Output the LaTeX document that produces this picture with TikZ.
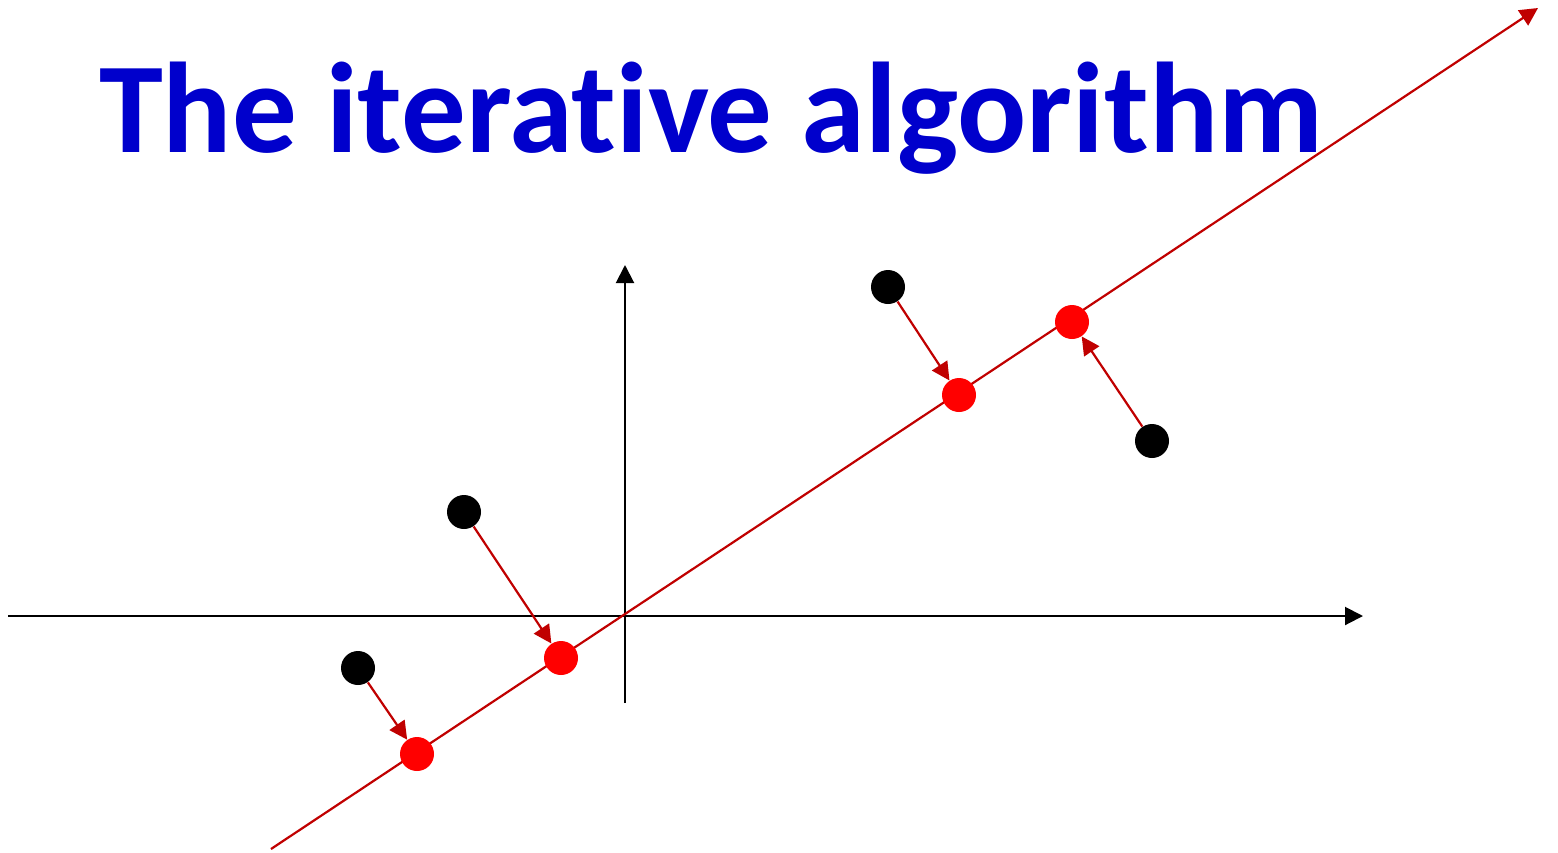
\documentclass[tikz,border=0pt]{standalone}
\usepackage{fontspec}
\setmainfont[Ligatures={NoCommon,NoRare,NoContextual}]{Carlito}
\usetikzlibrary{arrows.meta}
\definecolor{titleblue}{RGB}{0,0,204}
\definecolor{darkred}{RGB}{192,0,0}
\definecolor{ptred}{RGB}{255,0,0}
\tikzset{
  ax/.style={line width=1pt, black, -{Triangle[length=9pt,width=9pt]}},
  fitline/.style={line width=1.1pt, darkred, -{Triangle[length=9pt,width=9pt]}},
  proj/.style={line width=1.1pt, darkred, -{Triangle[length=9pt,width=9pt]}},
  bpt/.style={circle, fill=black, inner sep=0pt, minimum size=17pt},
  rpt/.style={circle, fill=ptred, inner sep=0pt, minimum size=17pt},
}
\begin{document}
\begin{tikzpicture}[x=0.5pt,y=-0.5pt]
\useasboundingbox (0,0) rectangle (1558,852);
\node[anchor=base, text=titleblue, font=\fontsize{64.5}{70}\selectfont\bfseries, inner sep=0pt] (title) at (711,152) {The iterative algorithm};
\coordinate (xs) at (8,616);
\coordinate (xe) at (1363,616);
\coordinate (ys) at (625,703);
\coordinate (ye) at (625,265);
\coordinate (ls) at (271,849);
\coordinate (le) at (1538,8);
\draw[ax] (xs) -- (xe);
\draw[ax] (ys) -- (ye);
\draw[fitline] (ls) -- (le);
\node[rpt] (r1) at (417,754) {};
\node[rpt] (r2) at (561,658) {};
\node[rpt] (r3) at (959,395) {};
\node[rpt] (r4) at (1072,322) {};
\node[bpt] (b1) at (358,668) {};
\node[bpt] (b2) at (464,512) {};
\node[bpt] (b3) at (888,287) {};
\node[bpt] (b4) at (1152,441) {};
\draw[proj] (b1) -- (r1);
\draw[proj] (b2) -- (r2);
\draw[proj] (b3) -- (r3);
\draw[proj] (b4) -- (r4);
\end{tikzpicture}
\end{document}
